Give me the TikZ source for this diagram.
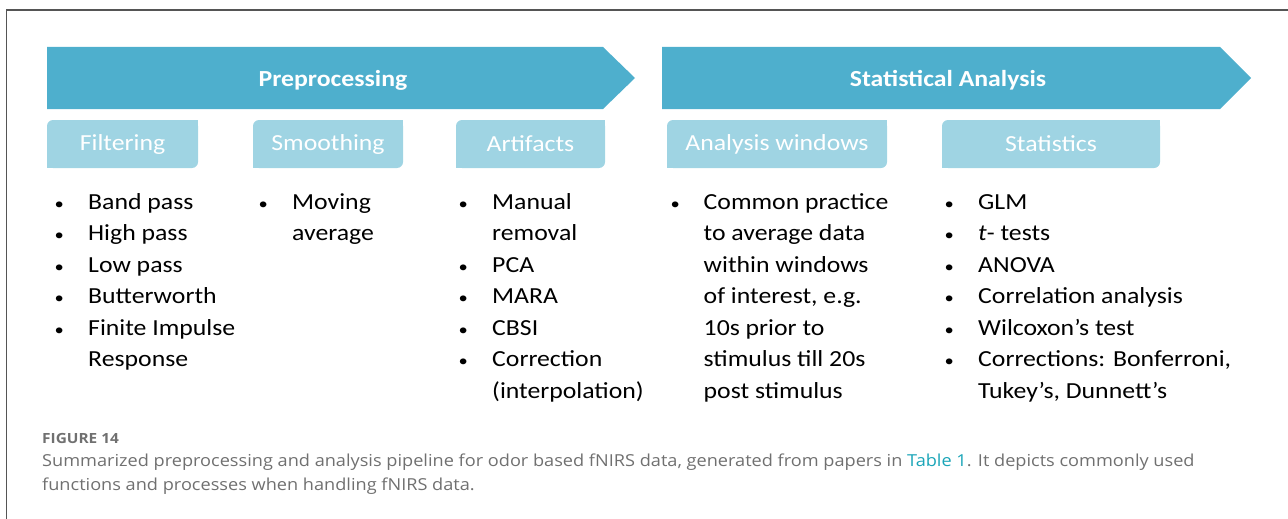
\documentclass[tikz,border=0pt]{standalone}
\usepackage{fontspec}
\usepackage{array}
\setmainfont{Carlito}[FakeStretch=1.12]
\newfontfamily\capfont{Open Sans}[FakeStretch=1.10]
\definecolor{arrowblue}{HTML}{4EAFCD}
\definecolor{subblue}{HTML}{9FD4E3}
\definecolor{capgray}{HTML}{707070}
\definecolor{linkteal}{HTML}{1BA5B8}
\definecolor{framegray}{HTML}{555555}
\newcommand{\dotitem}{\scalebox{0.72}{•}}

\begin{document}
\begin{tikzpicture}[x=1pt,y=-1pt,
        head/.style={text=white, anchor=base, inner sep=0pt,
                        font=\fontsize{23}{28}\selectfont\bfseries},
        sub/.style={fill=subblue, rounded corners=6pt, text=white,
                        minimum height=48pt, inner sep=0pt,
                        font=\fontsize{23}{28}\selectfont},
        items/.style={anchor=base west, inner sep=0pt,
                        font=\fontsize{23}{31.5}\selectfont},
        captxt/.style={anchor=base west, inner sep=0pt, text=capgray,
                        font=\capfont\fontsize{16.5}{20}\selectfont}]
    \useasboundingbox (0,0) rectangle (1288,519);
    \draw[framegray, line width=1.2pt] (1288,10) -- (6.5,10) -- (6.5,519);

    % the two big arrows
    \fill[arrowblue] (47,47) -- (603,47) -- (635,78) -- (603,109) -- (47,109) -- cycle;
    \fill[arrowblue] (662,47) -- (1220,47) -- (1251,78) -- (1220,109) -- (662,109) -- cycle;
    \node[head] (prep) at (333,87) {Preprocessing};
    \node[head] (stat) at (948,87) {Statistical Analysis};

    % the sub boxes
    \foreach \name/\xc/\w/\txt in {filt/122.5/151/Filtering, smooth/328/150/Smoothing,
            artif/530.5/149/Artifacts, windows/777/220/Analysis windows,
            tests/1051/218/Statistics} {
        \node[sub, minimum width=\w pt] (\name) at (\xc,144) {\txt};
        \fill[subblue] (\name.north east) rectangle ++(-8,8);
        \fill[subblue] (\name.south west) rectangle ++(8,-8);
    }

    % the lists
    \node[items] (filtlist) at (54.5,209) {\begin{tabular}[t]{@{}p{33.5pt}@{}l@{}}
        \dotitem&Band pass\\ \dotitem&High pass\\ \dotitem&Low pass\\ \dotitem&Butterworth\\
        \dotitem&Finite Impulse\\ &Response\end{tabular}};
    \node[items] (smoothlist) at (258.5,209) {\begin{tabular}[t]{@{}p{33.5pt}@{}l@{}}
        \dotitem&Moving\\ &average\end{tabular}};
    \node[items] (artiflist) at (458.5,209) {\begin{tabular}[t]{@{}p{33.5pt}@{}l@{}}
        \dotitem&Manual\\ &removal\\ \dotitem&PCA\\ \dotitem&MARA\\ \dotitem&CBSI\\
        \dotitem&Correction\\ &(interpolation)\end{tabular}};
    \node[items] (windowslist) at (670.5,209) {\begin{tabular}[t]{@{}p{33pt}@{}l@{}}
        \dotitem&Common practice\\ &to average data\\ &within windows\\
        &of interest, e.g.\\ &10s prior to\\ &stimulus till 20s\\
        &post stimulus\end{tabular}};
    \node[items] (testslist) at (944.5,209) {\begin{tabular}[t]{@{}p{33.5pt}@{}l@{}}
        \dotitem&GLM\\ \dotitem&\textit{t}- tests\\ \dotitem&ANOVA\\
        \dotitem&Correlation analysis\\ \dotitem&Wilcoxon’s test\\
        \dotitem&Corrections: Bonferroni,\\ &Tukey’s, Dunnett’s\end{tabular}};

    % caption
    \node[captxt, font=\capfont\fontsize{14}{16}\selectfont\bfseries] (fig) at (42,443) {FIGURE 14};
    \node[captxt] (cap1) at (42,466) {Summarized preprocessing and analysis pipeline for odor
        based fNIRS data, generated from papers in \textcolor{linkteal}{Table 1}. It depicts
        commonly used};
    \node[captxt] (cap2) at (42,490) {functions and processes when handling fNIRS data.};
\end{tikzpicture}
\end{document}
